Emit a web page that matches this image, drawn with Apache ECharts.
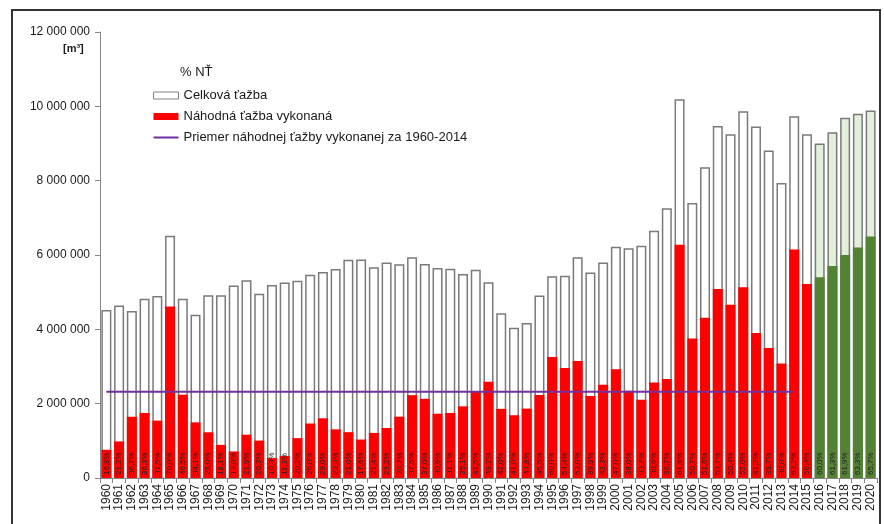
<!DOCTYPE html>
<html>
<head>
<meta charset="utf-8">
<script src="https://cdn.jsdelivr.net/npm/echarts@6/dist/echarts.min.js"></script>
<style>
  html, body { margin: 0; padding: 0; background: #fff; }
  #chart { width: 884px; height: 524px; }
</style>
</head>
<body>
<div id="chart"></div>
<script>
var mychart = echarts.init(document.getElementById('chart'));

// roky
const years = [
    '1960', '1961', '1962', '1963', '1964', '1965', '1966', '1967', '1968', '1969',
    '1970', '1971', '1972', '1973', '1974', '1975', '1976', '1977', '1978', '1979',
    '1980', '1981', '1982', '1983', '1984', '1985', '1986', '1987', '1988', '1989',
    '1990', '1991', '1992', '1993', '1994', '1995', '1996', '1997', '1998', '1999',
    '2000', '2001', '2002', '2003', '2004', '2005', '2006', '2007', '2008', '2009',
    '2010', '2011', '2012', '2013', '2014', '2015', '2016', '2017', '2018', '2019',
    '2020'
];
// celková ťažba [m3]
const celkova = [
    4520000, 4640000, 4490000, 4820000, 4900000, 6520000, 4820000, 4390000, 4920000, 4920000,
    5180000, 5320000, 4960000, 5190000, 5260000, 5310000, 5470000, 5540000, 5620000, 5870000,
    5880000, 5670000, 5800000, 5750000, 5940000, 5760000, 5650000, 5630000, 5490000, 5600000,
    5270000, 4430000, 4040000, 4170000, 4910000, 5430000, 5440000, 5940000, 5530000, 5800000,
    6220000, 6180000, 6250000, 6650000, 7260000, 10190000, 7400000, 8360000, 9470000, 9250000,
    9870000, 9460000, 8810000, 7940000, 9730000, 9250000, 9000000, 9300000, 9690000, 9800000,
    9890000
];
// náhodná ťažba vykonaná [m3]
const nahodna = [
    759000, 984000, 1648000, 1750000, 1544000, 4616000, 2241000, 1497000, 1230000, 891000,
    715000, 1165000, 1007000, 535000, 594000, 1073000, 1466000, 1607000, 1309000, 1233000,
    1035000, 1213000, 1346000, 1650000, 2228000, 2131000, 1729000, 1751000, 1927000, 2324000,
    2593000, 1861000, 1689000, 1868000, 2234000, 3258000, 2959000, 3148000, 2206000, 2511000,
    2923000, 2348000, 2106000, 2567000, 2664000, 6277000, 3752000, 4314000, 5085000, 4662000,
    5132000, 3898000, 3498000, 3081000, 6149000, 5217000, 5400000, 5701000, 5998000, 6203000,
    6498000
];
// % NŤ
const podiel = [
    16.8, 21.2, 36.7, 36.3, 31.5, 70.8, 46.5, 34.1, 25.0, 18.1,
    13.8, 21.9, 20.3, 10.3, 11.3, 20.2, 26.8, 29.0, 23.3, 21.0,
    17.6, 21.4, 23.2, 28.7, 37.5, 37.0, 30.6, 31.1, 35.1, 41.5,
    49.2, 42.0, 41.8, 44.8, 45.5, 60.0, 54.4, 53.0, 39.9, 43.3,
    47.0, 38.0, 33.7, 38.6, 36.7, 61.6, 50.7, 51.6, 53.7, 50.4,
    52.0, 41.2, 39.7, 38.8, 63.2, 56.4, 60.0, 61.3, 61.9, 63.3,
    65.7
];
// priemer náhodnej ťažby 1960-2014
const priemer = 2320000;
const priemerOd = '1960';
const priemerDo = '2014';
const prvyOdhad = '2016';

function fmt(v) {
    return String(v).replace(/\B(?=(\d{3})+(?!\d))/g, ' ');
}

var font = 'Liberation Sans, Arial, sans-serif';
var iOd = years.indexOf(priemerOd), iDo = years.indexOf(priemerDo), iOdhad = years.indexOf(prvyOdhad);

var celkovaData = celkova.map(function (v, i) {
    return i >= iOdhad ? { value: v, itemStyle: { color: '#e2efda' } } : v;
});
var nahodnaData = nahodna.map(function (v, i) {
    return i >= iOdhad ? { value: v, itemStyle: { color: '#548235' } } : v;
});
var priemerData = years.map(function (y, i) {
    return (i >= iOd && i <= iDo) ? priemer : null;
});

// tenká čiara ako ikona v legende
var lineIcon = 'path://M0,0 L1,0 L1,0 Z M0,2.6 L25,2.6 L25,4.4 L0,4.4 Z M0,7 L1,7 L1,7 Z';

option = {
    backgroundColor: '#ffffff',
    animation: false,
    textStyle: { fontFamily: font },
    grid: { left: 100, right: 7, top: 32, bottom: 46 },
    legend: {
        orient: 'vertical',
        left: 148,
        top: 84,
        itemWidth: 25,
        itemHeight: 7,
        itemGap: 8,
        textStyle: { fontSize: 13, color: '#1a1a1a', fontFamily: font },
        data: [
            { name: 'Celková ťažba', icon: 'rect', itemStyle: { color: '#ffffff', borderColor: '#808080', borderWidth: 1 } },
            { name: 'Náhodná ťažba vykonaná', icon: 'rect' },
            { name: 'Priemer náhodnej ťažby vykonanej za 1960-2014', icon: lineIcon, itemStyle: { color: '#7030a0' } }
        ]
    },
    graphic: [
        { type: 'rect', shape: { x: 12, y: 10, width: 868, height: 530 }, style: { fill: 'none', stroke: '#333', lineWidth: 2 }, silent: true },
        { type: 'text', left: 63, top: 43, style: { text: '[m³]', font: 'bold 11px ' + font, fill: '#1a1a1a' } },
        { type: 'text', left: 180, top: 66, style: { text: '% NŤ', font: '13px ' + font, fill: '#1a1a1a' } }
    ],
    xAxis: {
        type: 'category',
        data: years,
        axisLine: { lineStyle: { color: '#868686' } },
        axisTick: { show: true, length: 5, lineStyle: { color: '#868686' } },
        axisLabel: { rotate: 90, interval: 0, fontSize: 12, color: '#1a1a1a', margin: 6 }
    },
    yAxis: {
        type: 'value',
        min: 0,
        max: 12000000,
        interval: 2000000,
        splitLine: { show: false },
        axisLine: { show: true, lineStyle: { color: '#868686' } },
        axisTick: { show: true, length: 5, lineStyle: { color: '#868686' } },
        axisLabel: { fontSize: 12, color: '#1a1a1a', margin: 10, formatter: fmt }
    },
    series: [
        {
            name: 'Celková ťažba',
            type: 'bar',
            barWidth: 10,
            barGap: '-100%',
            data: celkovaData,
            itemStyle: { color: '#ffffff', borderColor: '#7a7a7a', borderWidth: 1.5 }
        },
        {
            name: 'Náhodná ťažba vykonaná',
            type: 'bar',
            barWidth: 10,
            data: nahodnaData,
            itemStyle: { color: '#ff0000' },
            label: {
                show: true,
                position: 'insideBottom',
                rotate: 90,
                align: 'left',
                verticalAlign: 'middle',
                distance: 3,
                fontSize: 8,
                color: '#222',
                formatter: function (p) {
                    return podiel[p.dataIndex].toFixed(1).replace('.', ',') + '%';
                }
            }
        },
        {
            name: 'Priemer náhodnej ťažby vykonanej za 1960-2014',
            type: 'line',
            symbol: 'none',
            data: priemerData,
            itemStyle: { color: '#7030a0' },
            lineStyle: { color: '#7030a0', width: 2 },
            z: 5
        }
    ]
};
mychart.setOption(option, true);
</script>
</body>
</html>
